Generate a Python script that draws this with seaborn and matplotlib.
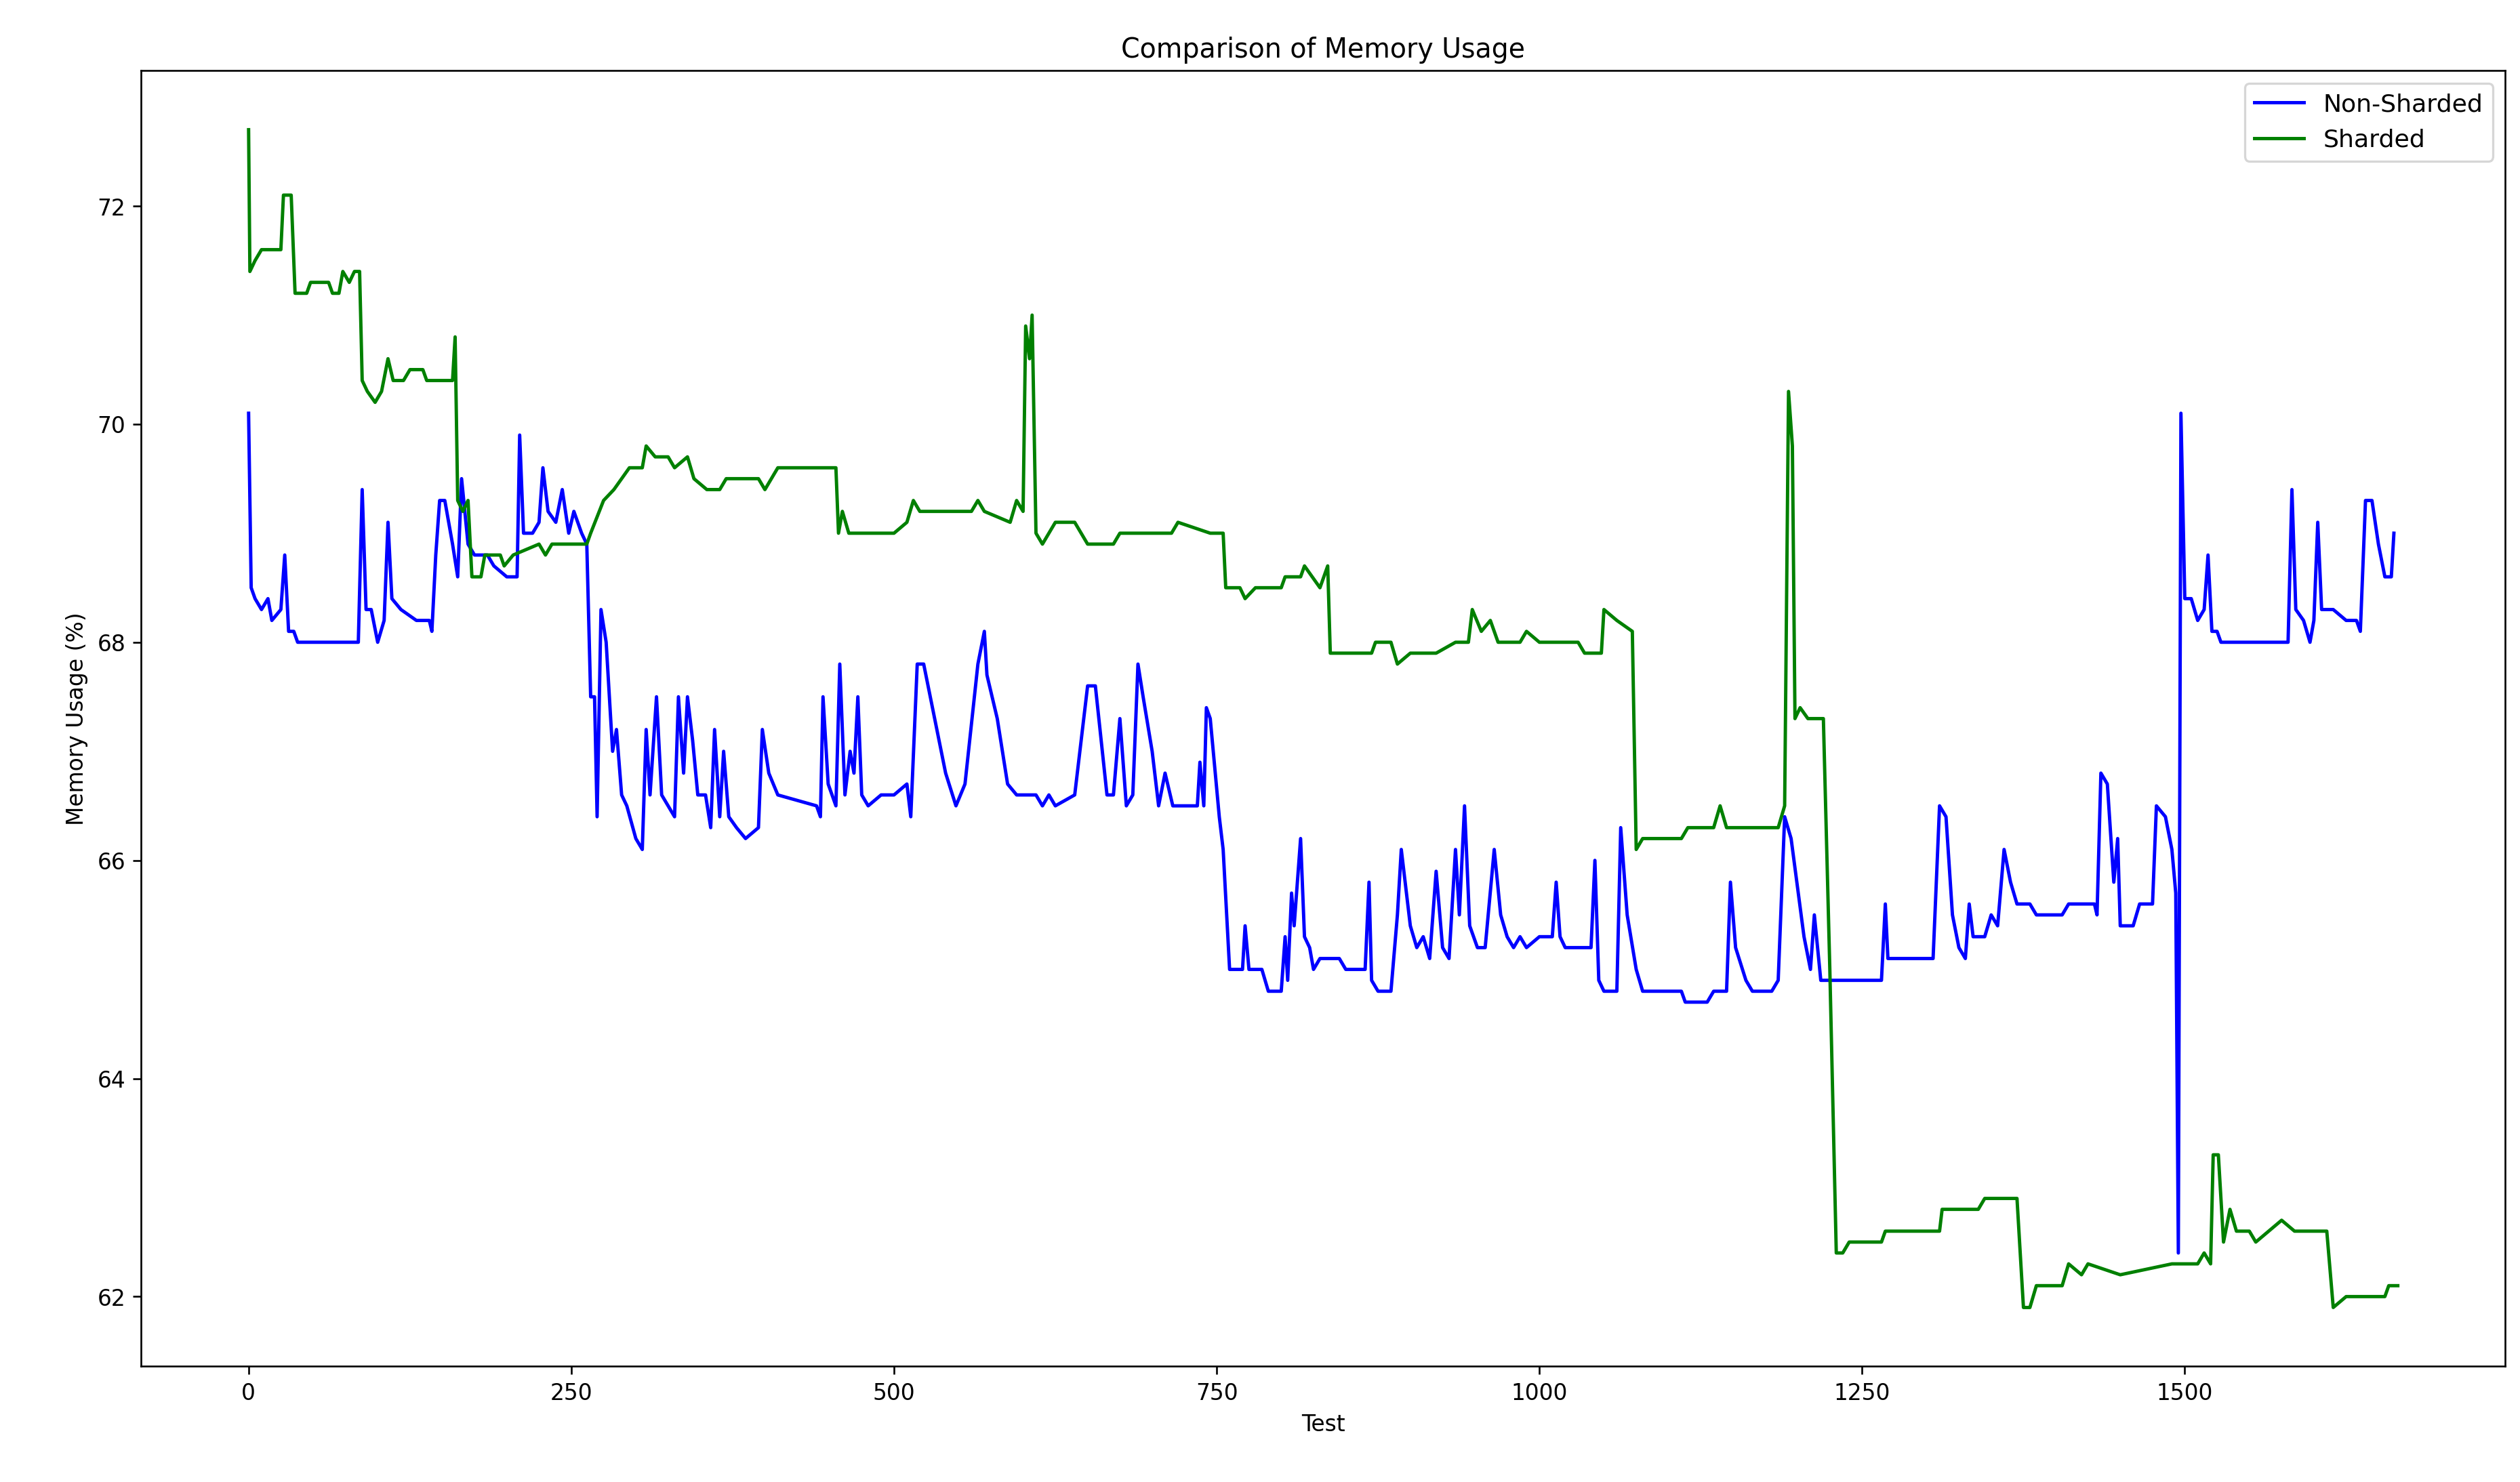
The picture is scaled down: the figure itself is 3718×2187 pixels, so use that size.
import matplotlib
matplotlib.use("Agg")
import matplotlib.pyplot as plt
import seaborn as sns
import pandas as pd

ns_x = [0,2,5,10,15,18,25,28,31,35,38,85,88,91,95,100,105,108,111,118,130,140,142,145,148,152,158,162,165,170,175,185,190,200,208,210,213,220,225,228,232,238,243,248,252,258,262,265,268,270,273,277,282,285,289,293,300,305,308,311,316,320,325,330,333,337,340,344,348,354,358,361,365,368,372,378,385,395,398,403,410,440,443,445,449,455,458,462,466,469,472,475,480,490,500,510,513,518,523,540,548,555,565,570,572,580,588,595,610,615,620,625,640,650,656,665,670,675,680,685,689,693,700,705,710,716,725,735,737,740,742,745,752,755,760,770,772,775,785,790,800,803,805,808,810,815,818,822,825,830,845,850,865,868,870,875,885,890,893,900,905,910,915,920,925,930,935,938,942,946,952,958,965,970,975,980,985,990,1000,1010,1013,1016,1020,1040,1043,1046,1050,1060,1063,1068,1075,1080,1110,1113,1130,1135,1145,1148,1152,1160,1165,1180,1185,1190,1195,1205,1210,1213,1218,1265,1268,1270,1300,1305,1310,1315,1320,1325,1330,1333,1336,1345,1350,1355,1360,1365,1370,1380,1385,1405,1410,1430,1432,1435,1440,1445,1448,1450,1460,1465,1475,1478,1485,1490,1493,1495,1497,1500,1505,1510,1515,1518,1521,1525,1528,1580,1583,1586,1592,1597,1600,1603,1606,1615,1625,1633,1636,1640,1645,1650,1655,1660,1662]
ns_y = [70.1,68.5,68.4,68.3,68.4,68.2,68.3,68.8,68.1,68.1,68.0,68.0,69.4,68.3,68.3,68.0,68.2,69.1,68.4,68.3,68.2,68.2,68.1,68.8,69.3,69.3,68.9,68.6,69.5,68.9,68.8,68.8,68.7,68.6,68.6,69.9,69.0,69.0,69.1,69.6,69.2,69.1,69.4,69.0,69.2,69.0,68.9,67.5,67.5,66.4,68.3,68.0,67.0,67.2,66.6,66.5,66.2,66.1,67.2,66.6,67.5,66.6,66.5,66.4,67.5,66.8,67.5,67.1,66.6,66.6,66.3,67.2,66.4,67.0,66.4,66.3,66.2,66.3,67.2,66.8,66.6,66.5,66.4,67.5,66.7,66.5,67.8,66.6,67.0,66.8,67.5,66.6,66.5,66.6,66.6,66.7,66.4,67.8,67.8,66.8,66.5,66.7,67.8,68.1,67.7,67.3,66.7,66.6,66.6,66.5,66.6,66.5,66.6,67.6,67.6,66.6,66.6,67.3,66.5,66.6,67.8,67.5,67.0,66.5,66.8,66.5,66.5,66.5,66.9,66.5,67.4,67.3,66.4,66.1,65.0,65.0,65.4,65.0,65.0,64.8,64.8,65.3,64.9,65.7,65.4,66.2,65.3,65.2,65.0,65.1,65.1,65.0,65.0,65.8,64.9,64.8,64.8,65.5,66.1,65.4,65.2,65.3,65.1,65.9,65.2,65.1,66.1,65.5,66.5,65.4,65.2,65.2,66.1,65.5,65.3,65.2,65.3,65.2,65.3,65.3,65.8,65.3,65.2,65.2,66.0,64.9,64.8,64.8,66.3,65.5,65.0,64.8,64.8,64.7,64.7,64.8,64.8,65.8,65.2,64.9,64.8,64.8,64.9,66.4,66.2,65.3,65.0,65.5,64.9,64.9,65.6,65.1,65.1,65.1,66.5,66.4,65.5,65.2,65.1,65.6,65.3,65.3,65.5,65.4,66.1,65.8,65.6,65.6,65.5,65.5,65.6,65.6,65.5,66.8,66.7,65.8,66.2,65.4,65.4,65.6,65.6,66.5,66.4,66.1,65.7,62.4,70.1,68.4,68.4,68.2,68.3,68.8,68.1,68.1,68.0,68.0,69.4,68.3,68.2,68.0,68.2,69.1,68.3,68.3,68.2,68.2,68.1,69.3,69.3,68.9,68.6,68.6,69.0]

sh_x = [0,1,5,10,25,27,33,36,45,48,62,65,70,73,78,82,86,88,92,98,103,108,112,120,125,135,138,158,160,162,166,170,173,180,183,195,198,205,225,230,235,262,265,275,283,295,305,308,315,325,330,340,345,355,365,370,395,400,405,410,445,455,457,460,465,500,510,515,520,560,565,570,590,595,600,602,605,607,610,615,625,640,645,650,670,675,710,715,720,745,755,757,768,772,780,800,803,815,818,830,836,838,870,873,885,890,900,920,935,945,948,955,962,968,985,990,1000,1030,1035,1048,1050,1060,1072,1075,1080,1110,1115,1135,1140,1145,1185,1190,1193,1196,1198,1202,1208,1220,1225,1230,1235,1240,1265,1268,1310,1312,1340,1345,1370,1375,1380,1385,1405,1410,1420,1425,1450,1490,1510,1515,1520,1522,1526,1530,1535,1540,1550,1555,1565,1575,1585,1610,1615,1625,1655,1658,1665]
sh_y = [72.7,71.4,71.5,71.6,71.6,72.1,72.1,71.2,71.2,71.3,71.3,71.2,71.2,71.4,71.3,71.4,71.4,70.4,70.3,70.2,70.3,70.6,70.4,70.4,70.5,70.5,70.4,70.4,70.8,69.3,69.2,69.3,68.6,68.6,68.8,68.8,68.7,68.8,68.9,68.8,68.9,68.9,69.0,69.3,69.4,69.6,69.6,69.8,69.7,69.7,69.6,69.7,69.5,69.4,69.4,69.5,69.5,69.4,69.5,69.6,69.6,69.6,69.0,69.2,69.0,69.0,69.1,69.3,69.2,69.2,69.3,69.2,69.1,69.3,69.2,70.9,70.6,71.0,69.0,68.9,69.1,69.1,69.0,68.9,68.9,69.0,69.0,69.0,69.1,69.0,69.0,68.5,68.5,68.4,68.5,68.5,68.6,68.6,68.7,68.5,68.7,67.9,67.9,68.0,68.0,67.8,67.9,67.9,68.0,68.0,68.3,68.1,68.2,68.0,68.0,68.1,68.0,68.0,67.9,67.9,68.3,68.2,68.1,66.1,66.2,66.2,66.3,66.3,66.5,66.3,66.3,66.5,70.3,69.8,67.3,67.4,67.3,67.3,65.0,62.4,62.4,62.5,62.5,62.6,62.6,62.8,62.8,62.9,62.9,61.9,61.9,62.1,62.1,62.3,62.2,62.3,62.2,62.3,62.3,62.4,62.3,63.3,63.3,62.5,62.8,62.6,62.6,62.5,62.6,62.7,62.6,62.6,61.9,62.0,62.0,62.1,62.1]

fig, ax = plt.subplots(figsize=(15.69, 9.23), dpi=237)
fig.subplots_adjust(left=0.056, right=0.994, top=0.952, bottom=0.078)
sns.lineplot(x=ns_x, y=ns_y, ax=ax, color="blue", label="Non-Sharded", sort=False, linewidth=1.5)
sns.lineplot(x=sh_x, y=sh_y, ax=ax, color="green", label="Sharded", sort=False, linewidth=1.5)
ax.set_title("Comparison of Memory Usage", fontsize=12)
ax.set_xlabel("Test")
ax.set_ylabel("Memory Usage (%)")
ax.set_xticks([0, 250, 500, 750, 1000, 1250, 1500])
ax.set_yticks([62, 64, 66, 68, 70, 72])
ax.legend(loc="upper right", fontsize=11)
fig.savefig("out.png", dpi=237)
